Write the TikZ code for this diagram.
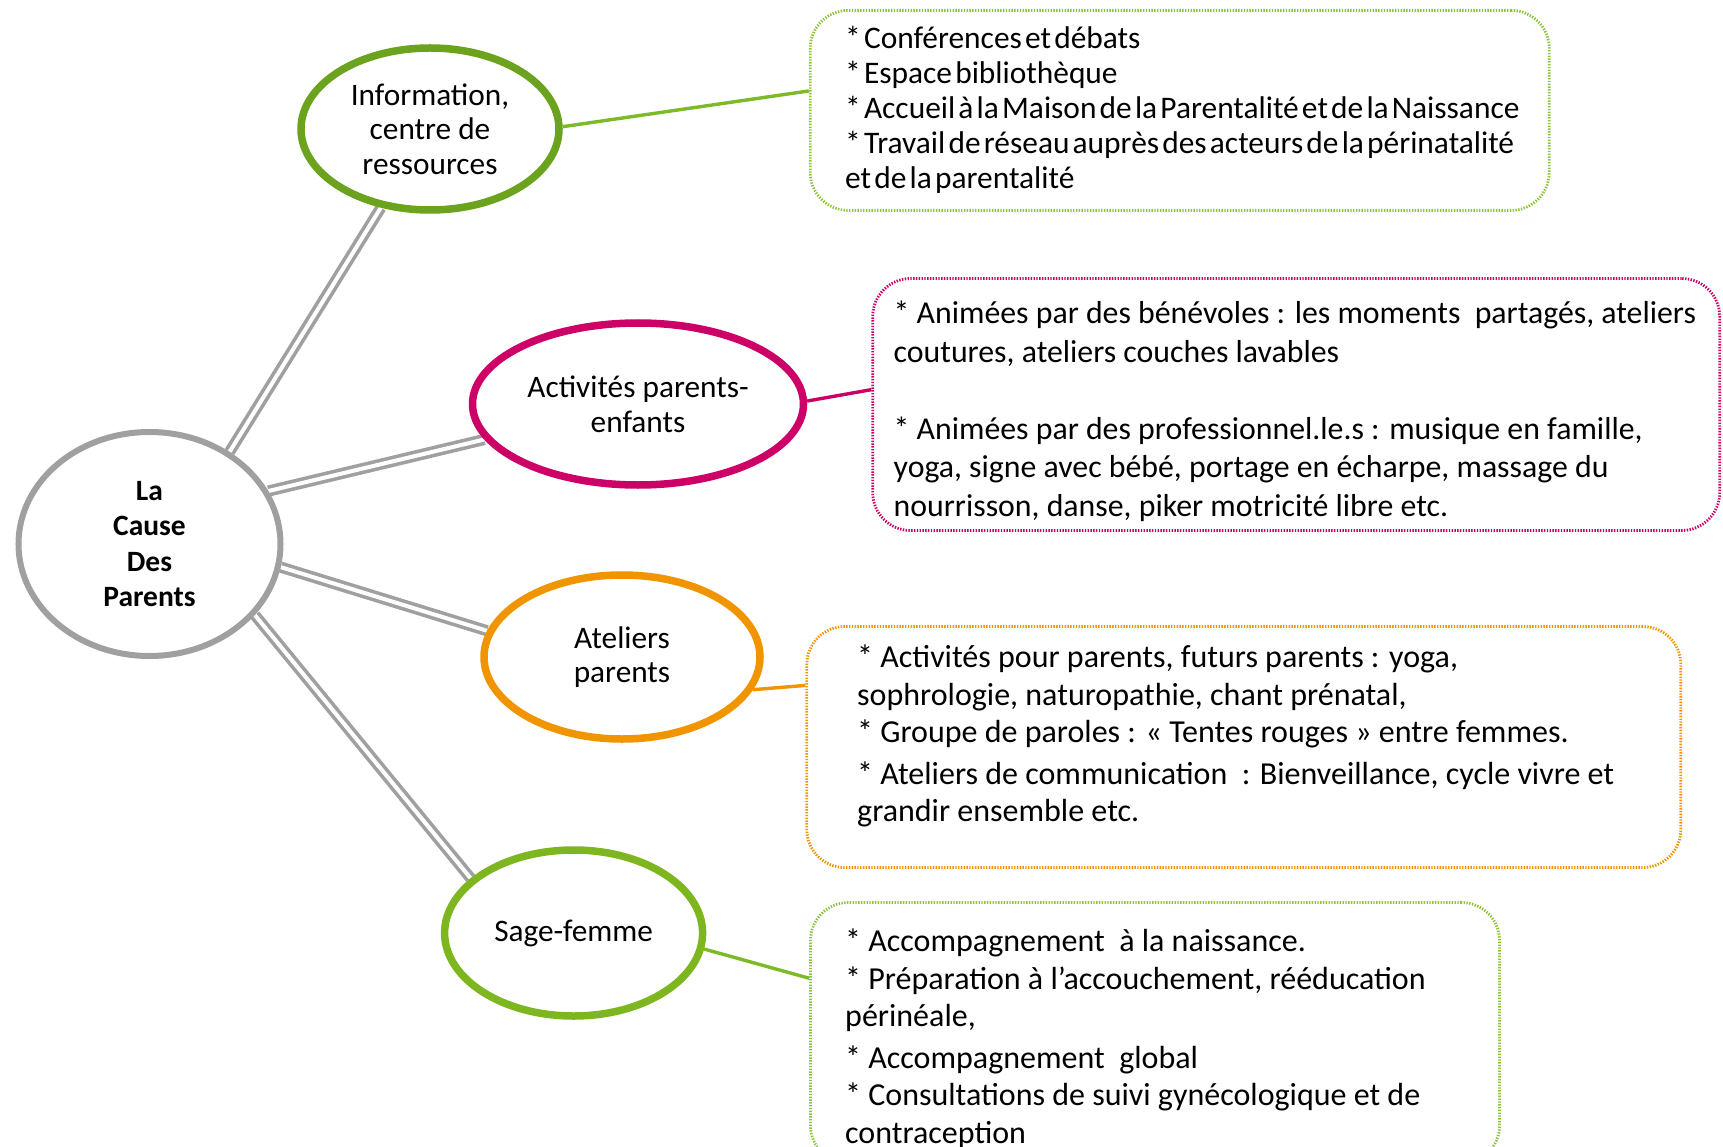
\documentclass[tikz,border=0pt]{standalone}
\usepackage{fontspec}
\setmainfont{Carlito}
\newfontfamily\condfont{Carlito}[WordSpace=0.45]
\usetikzlibrary{shapes.geometric,backgrounds}
\definecolor{grayc}{RGB}{160,160,160}
\definecolor{darkgreen}{RGB}{108,163,30}
\definecolor{lightgreen}{RGB}{140,196,60}
\definecolor{linkgreen}{RGB}{125,186,40}
\definecolor{sagegreen}{RGB}{126,182,32}
\definecolor{magentac}{RGB}{204,0,102}
\definecolor{orangec}{RGB}{240,148,0}
\begin{document}
\begin{tikzpicture}[x=1pt,y=-1pt,
  bubble/.style={ellipse, draw, line width=7.5pt, inner sep=0pt, align=center, fill=white,
    font=\fontsize{31.3}{34.6}\selectfont},
  hub/.style={bubble, draw=grayc, line width=6pt, font=\bfseries\fontsize{29.5}{35.5}\selectfont},
  panel/.style={rectangle, rounded corners=38pt, line width=2.8pt, dash pattern=on 1.4pt off 1.4pt, inner sep=0pt},
  paneltext/.style={anchor=north west, align=left, inner sep=0pt},
  twin/.style={draw=grayc, line width=3.6pt, double=white, double distance=4pt},
  link/.style={line width=3.4pt}
]
\useasboundingbox (0,0) rectangle (1723,1147);

% central and topic ellipses
\node[hub, minimum width=262, minimum height=224] (hub) at (149.5,544) {La\\Cause\\Des\\Parents};
\node[bubble, draw=darkgreen, minimum width=258, minimum height=162] (info) at (430,129) {Information,\\centre de\\ressources};
\node[bubble, draw=magentac, minimum width=331, minimum height=162] (act) at (638,404) {Activités parents-\\enfants};
\node[bubble, draw=orangec, minimum width=276, minimum height=164] (atel) at (622,657) {Ateliers\\parents};
\node[bubble, draw=sagegreen, minimum width=258, minimum height=166] (sage) at (573.6,933) {Sage-femme};

% dotted panels
\node[panel, draw=lightgreen, minimum width=739, minimum height=200] (b1) at (1179.7,110.4) {};
\node[panel, draw=magentac, minimum width=847, minimum height=252] (b2) at (1296.2,404.5) {};
\node[panel, draw=orangec, minimum width=874, minimum height=241] (b3) at (1243.8,747) {};
\node[panel, draw=lightgreen, minimum width=689, minimum height=261] (b4) at (1155,1033) {};

% panel texts
\node[paneltext, font=\condfont\fontsize{31.4}{35}\selectfont] (t1) at (845,26)
  {{*} Conférences et débats\\{*} Espace bibliothèque\\{*} Accueil à la Maison de la Parentalité et de la Naissance\\{*} Travail de réseau auprès des acteurs de la périnatalité\\et de la parentalité};
\node[paneltext, font=\fontsize{31.8}{38.5}\selectfont] (t2) at (893.5,301)
  {{*} Animées par des bénévoles : les moments\ \ partagés, ateliers\\coutures, ateliers couches lavables\\[38.5pt]{*} Animées par des professionnel.le.s : musique en famille,\\yoga, signe avec bébé, portage en écharpe, massage du\\nourrisson, danse, piker motricité libre etc.};
\node[paneltext, font=\fontsize{32}{37.5}\selectfont] (t3) at (857,645)
  {{*} Activités pour parents, futurs parents : yoga,\\sophrologie, naturopathie, chant prénatal,\\{*} Groupe de paroles : « Tentes rouges » entre femmes.\\[4pt]{*} Ateliers de communication\ \ : Bienveillance, cycle vivre et\\grandir ensemble etc.};
\node[paneltext, font=\fontsize{32}{37.5}\selectfont] (t4) at (845,929)
  {{*} Accompagnement\ \ à la naissance.\\{*} Préparation à l’accouchement, rééducation\\périnéale,\\[4pt]{*} Accompagnement\ \ global\\{*} Consultations de suivi gynécologique et de\\contraception};

\begin{pgfonlayer}{background}
\draw[twin] (hub.49.8) -- (info.238.6);
\draw[twin] (hub.24.7) -- (act.193.3);
\draw[twin] (hub.-10.4) -- (atel.169.5);
\draw[twin] (hub.-34.7) -- (sage.152.4);
\end{pgfonlayer}

\draw[link, draw=linkgreen] (info.1) -- (b1.177.7);
\draw[link, draw=magentac] (act.1.5) -- (b2.178.9);
\draw[link, draw=orangec] (atel.-14.3) -- (b3.172.7);
\draw[link, draw=linkgreen] (sage.-7.6) -- (b4.171);
\end{tikzpicture}
\end{document}
